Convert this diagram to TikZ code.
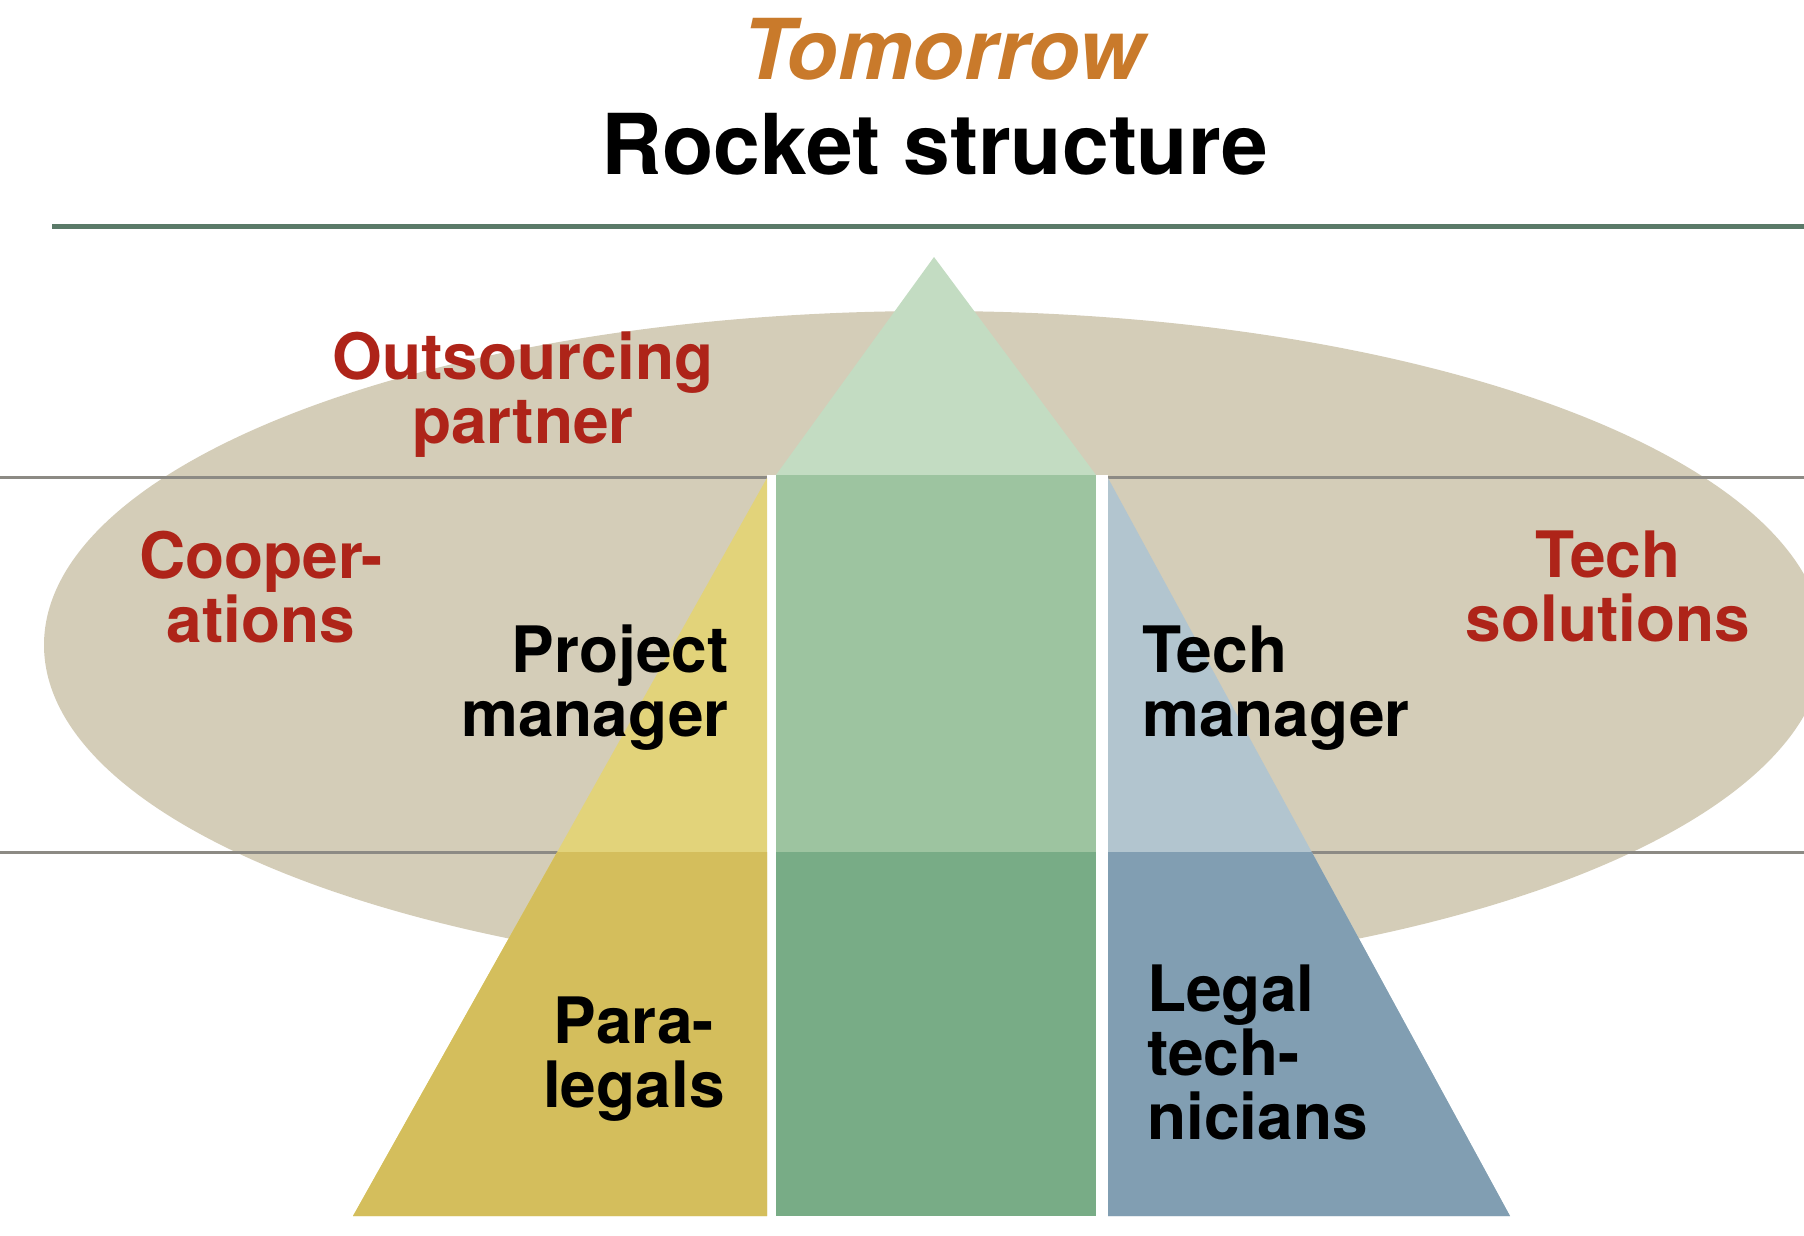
\documentclass[tikz,border=0pt]{standalone}
\usepackage{fontspec}
\setmainfont{TeX Gyre Heros}
\usetikzlibrary{positioning}

\definecolor{ovalsand}{HTML}{D4CDB8}
\definecolor{tipgreen}{HTML}{C3DCC2}
\definecolor{bodygreen}{HTML}{9DC4A0}
\definecolor{basegreen}{HTML}{78AC86}
\definecolor{wingyellow}{HTML}{E2D37A}
\definecolor{baseyellow}{HTML}{D4BE5C}
\definecolor{wingblue}{HTML}{B2C5CF}
\definecolor{baseblue}{HTML}{819EB2}
\definecolor{partnerred}{HTML}{AE2419}
\definecolor{titleorange}{HTML}{C97A2B}
\definecolor{rulegreen}{HTML}{5A7A68}
\definecolor{rulegrey}{HTML}{8C8A84}

\begin{document}
\begin{tikzpicture}[x=1pt, y=-1pt, line cap=butt,
    bigtitle/.style={font=\fontsize{84}{90}\selectfont\bfseries, inner sep=0pt},
    sidelabel/.style={text=partnerred, font=\fontsize{64}{64}\selectfont\bfseries, inner sep=0pt},
    rolelabel/.style={text=black, font=\fontsize{64}{64}\selectfont\bfseries, inner sep=0pt}]
  \useasboundingbox (0,0) rectangle (1804,1236);

  % Rocket outline points
  \coordinate (tip) at (934,257);
  \coordinate (colNW) at (776,475);
  \coordinate (colSE) at (1096,1216);
  \coordinate (ltop) at (767,478);
  \coordinate (lfoot) at (353,1216);
  \coordinate (rtop) at (1108,478);
  \coordinate (rfoot) at (1510,1216);

  % The oval behind the rocket
  \fill[ovalsand] (934,645) ellipse [x radius=890, y radius=334];

  % Rules: title rule and the two level rules
  \draw[rulegreen, line width=5] (52,226) -- (1804,226);
  \draw[rulegrey, line width=3] (0,477) -- (1804,477);
  \draw[rulegrey, line width=3] (0,852) -- (1804,852);

  % White gaps between the rocket parts
  \fill[white] (767,475) rectangle (776,1216);
  \fill[white] (1096,475) rectangle (1108,1216);

  % Nose cone and body
  \fill[tipgreen] (tip) -- (1096,475) -- (colNW) -- cycle;
  \fill[bodygreen] (colNW) rectangle (1096,852);
  \fill[basegreen] (776,852) rectangle (colSE);

  % Left and right wings, light above the lower rule
  \fill[wingyellow] (ltop) -- (767,1216) -- (lfoot) -- cycle;
  \fill[wingblue] (rtop) -- (1108,1216) -- (rfoot) -- cycle;
  \begin{scope}
    \clip (0,852) rectangle (1804,1236);
    \fill[baseyellow] (ltop) -- (767,1216) -- (lfoot) -- cycle;
    \fill[baseblue] (rtop) -- (1108,1216) -- (rfoot) -- cycle;
  \end{scope}

  % Titles
  \node[bigtitle, text=titleorange, anchor=base] (tomorrow) at (943,80) {\itshape Tomorrow};
  \node[bigtitle, anchor=base] (rocket) at (935,175) {Rocket structure};

  % Labels in the oval (anchored at the last line's baseline)
  \node[sidelabel, align=center, anchor=base] (outsourcing) at (523,443) {Outsourcing\\partner};
  \node[sidelabel, align=center, anchor=base] (cooperations) at (261,642) {Cooper-\\ations};
  \node[sidelabel, align=center, anchor=base] (techsol) at (1608,641) {Tech\\solutions};

  % Labels on the rocket
  \node[rolelabel, align=right, anchor=base east] (projman) at (729,736) {Project\\manager};
  \node[rolelabel, align=left, anchor=base west] (techman) at (1142,736) {Tech\\manager};
  \node[rolelabel, align=center, anchor=base] (paralegals) at (634,1107) {Para-\\legals};
  \node[rolelabel, align=left, anchor=base west] (legaltech) at (1147,1139) {Legal\\tech-\\nicians};
\end{tikzpicture}
\end{document}
